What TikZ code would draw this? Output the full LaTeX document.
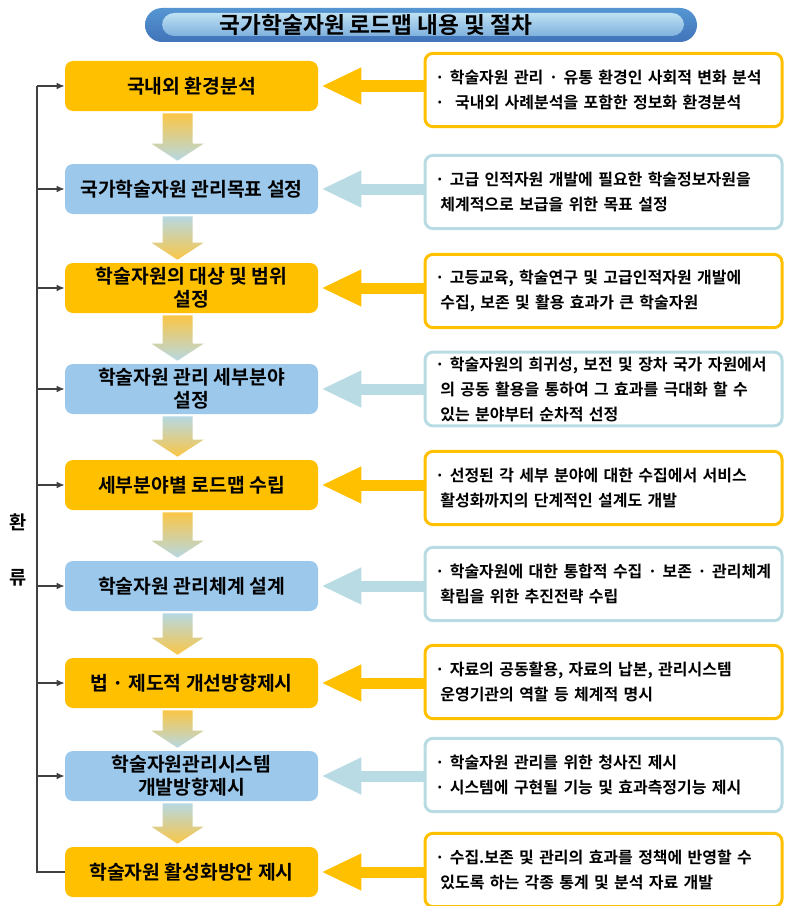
\documentclass[tikz,border=0pt]{standalone}
\usepackage{fontspec}
\setmainfont{Noto Sans CJK KR}[BoldFont={Noto Sans CJK KR Bold}]
\usetikzlibrary{arrows.meta}
\definecolor{boxyellow}{RGB}{255,192,0}
\definecolor{boxblue}{RGB}{155,200,235}
\definecolor{lineteal}{RGB}{185,220,228}
\definecolor{arrowyellow}{RGB}{250,198,70}
\definecolor{arrowblue}{RGB}{182,216,226}
\definecolor{barouter}{RGB}{85,150,210}
\definecolor{barlow}{RGB}{65,115,185}
\definecolor{barlight}{RGB}{190,225,243}

\newcommand{\flowarrow}[4]{%
  \shade[top color=#3,bottom color=#4]
    ([shift={(-29,-2)}]#1.south) -- ([shift={(1,-2)}]#1.south)
    -- ([shift={(1,20)}]#2.north) -- ([shift={(12,20)}]#2.north)
    -- ([shift={(-14,3)}]#2.north) -- ([shift={(-40,20)}]#2.north)
    -- ([shift={(-29,20)}]#2.north) -- cycle;}

\begin{document}
\begin{tikzpicture}[x=0.75pt,y=0.75pt,
    stepbox/.style={rounded corners=6pt, minimum width=189.75pt, minimum height=37.5pt,
      align=center, font=\bfseries\fontsize{14.5}{17}\selectfont},
    ybox/.style={stepbox, fill=boxyellow},
    bbox/.style={stepbox, fill=boxblue},
    infobox/.style={draw, line width=2.25pt, rounded corners=6pt, fill=white,
      text width=252.75pt, inner xsep=7.5pt, align=left, minimum height=55pt,
      font=\bfseries\fontsize{12}{18.75}\selectfont},
    yinfo/.style={infobox, draw=boxyellow},
    binfo/.style={infobox, draw=lineteal},
    fatarrow/.style={line width=8.25pt, shorten >=2.25pt,
      -{Triangle[width=25.5pt,length=30pt]}},
    fbarrow/.style={draw=black!75, line width=1.1pt, -{Latex[length=6pt,width=5pt]}}]
  \useasboundingbox (0,0) rectangle (786,-906);

  % title
  \shade[rounded corners=12.75pt, top color=barouter, bottom color=barlow]
    (145,-8) rectangle (697,-42);
  \shade[rounded corners=9pt, top color=barlight, bottom color=barouter!75]
    (162,-13) rectangle (684,-36);
  \node[font=\bfseries\fontsize{17}{20}\selectfont] (title) at (376,-25)
    {국가학술자원 로드맵 내용 및 절차};

  % steps
  \node[ybox] (L1) at (191.5,-86) {국내외 환경분석};
  \node[bbox] (L2) at (191.5,-189) {국가학술자원 관리목표 설정};
  \node[ybox] (L3) at (191.5,-288) {학술자원의 대상 및 범위\\설정};
  \node[bbox] (L4) at (191.5,-389) {학술자원 관리 세부분야\\설정};
  \node[ybox] (L5) at (191.5,-485) {세부분야별 로드맵 수립};
  \node[bbox] (L6) at (191.5,-586) {학술자원 관리체계 설계};
  \node[ybox] (L7) at (191.5,-683) {법 · 제도적 개선방향제시};
  \node[bbox] (L8) at (191.5,-776) {학술자원관리시스템\\개발방향제시};
  \node[ybox] (L9) at (191.5,-872) {학술자원 활성화방안 제시};

  % contents
  \node[yinfo] (R1) at (603.5,-90) {· 학술자원 관리 · 유통 환경인 사회적 변화 분석\\·\ \ 국내외 사례분석을 포함한 정보화 환경분석};
  \node[binfo] (R2) at (603.5,-192) {· 고급 인적자원 개발에 필요한 학술정보자원을\\\hspace*{4pt}체계적으로 보급을 위한 목표 설정};
  \node[yinfo] (R3) at (603.5,-291) {· 고등교육, 학술연구 및 고급인적자원 개발에\\\hspace*{4pt}수집, 보존 및 활용 효과가 큰 학술자원};
  \node[binfo] (R4) at (603.5,-389) {· 학술자원의 희귀성, 보전 및 장차 국가 자원에서\\\hspace*{4pt}의 공동 활용을 통하여 그 효과를 극대화 할 수\\\hspace*{4pt}있는 분야부터 순차적 선정};
  \node[yinfo] (R5) at (603.5,-488) {· 선정된 각 세부 분야에 대한 수집에서 서비스\\\hspace*{4pt}활성화까지의 단계적인 설계도 개발};
  \node[binfo] (R6) at (603.5,-584) {· 학술자원에 대한 통합적 수집 · 보존 · 관리체계\\\hspace*{4pt}확립을 위한 추진전략 수립};
  \node[yinfo] (R7) at (603.5,-682) {· 자료의 공동활용, 자료의 납본, 관리시스템\\\hspace*{4pt}운영기관의 역할 등 체계적 명시};
  \node[binfo] (R8) at (603.5,-775) {· 학술자원 관리를 위한 청사진 제시\\· 시스템에 구현될 기능 및 효과측정기능 제시};
  \node[yinfo] (R9) at (603.5,-870) {· 수집.보존 및 관리의 효과를 정책에 반영할 수\\\hspace*{4pt}있도록 하는 각종 통계 및 분석 자료 개발};

  % arrows from contents
  \foreach \i in {1,3,5,7,9}
    \draw[fatarrow, boxyellow] (R\i.west |- L\i.east) -- (L\i.east);
  \foreach \i in {2,4,6,8}
    \draw[fatarrow, lineteal] (R\i.west |- L\i.east) -- (L\i.east);

  % flow
  \flowarrow{L1}{L2}{arrowyellow}{arrowblue}
  \flowarrow{L2}{L3}{arrowblue}{arrowyellow}
  \flowarrow{L3}{L4}{arrowyellow}{arrowblue}
  \flowarrow{L4}{L5}{arrowblue}{arrowyellow}
  \flowarrow{L5}{L6}{arrowyellow}{arrowblue}
  \flowarrow{L6}{L7}{arrowblue}{arrowyellow}
  \flowarrow{L7}{L8}{arrowyellow}{arrowblue}
  \flowarrow{L8}{L9}{arrowblue}{arrowyellow}

  % feedback
  \coordinate (fb) at (37,0);
  \draw[draw=black!75, line width=1.1pt] (L9.west) -| (fb |- L1.west);
  \foreach \i in {1,...,8}
    \draw[fbarrow] (fb |- L\i.west) -- (L\i.west);
  \node[font=\bfseries\fontsize{14}{16}\selectfont] (fb1) at (18,-522) {환};
  \node[font=\bfseries\fontsize{14}{16}\selectfont] (fb2) at (18,-578) {류};
\end{tikzpicture}
\end{document}
